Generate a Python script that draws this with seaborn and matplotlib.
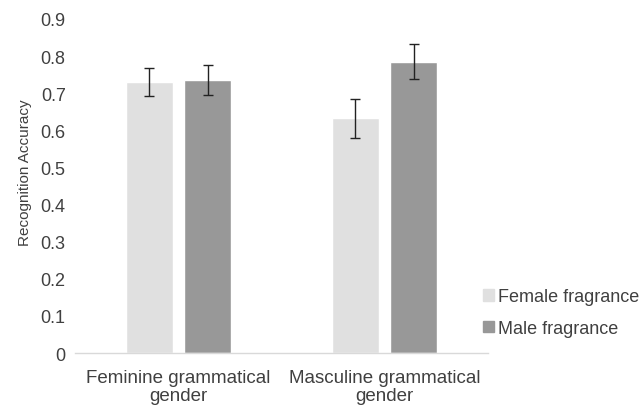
import matplotlib
matplotlib.use("Agg")
import matplotlib.pyplot as plt
import seaborn as sns
import pandas as pd
import numpy as np

# data
conditions = ["Feminine grammatical\ngender", "Masculine grammatical\ngender"]
fragrances = ["Female fragrance", "Male fragrance"]
female_acc = [0.730, 0.632]
male_acc = [0.735, 0.785]
female_err = [0.037, 0.052]
male_err = [0.040, 0.047]

df = pd.DataFrame({
    "condition": conditions * 2,
    "fragrance": [fragrances[0]] * 2 + [fragrances[1]] * 2,
    "accuracy": female_acc + male_acc,
    "err": female_err + male_err,
})

sns.set_style("white")
plt.rcParams["font.family"] = ["Liberation Sans", "DejaVu Sans"]
text_col = "#404040"

fig = plt.figure(figsize=(6.44, 4.06), dpi=100)
ax = fig.add_axes([0.117, 0.128, 0.640, 0.823])

sns.barplot(
    data=df, x="condition", y="accuracy", hue="fragrance",
    palette=["#e0e0e0", "#989898"], width=0.57, gap=0.2,
    errorbar=None, ax=ax, legend=False, saturation=1,
)

# error bars at the bar centres
for bars, errs in zip(ax.containers, [female_err, male_err]):
    xs = [b.get_x() + b.get_width() / 2 for b in bars]
    ys = [b.get_height() for b in bars]
    ax.errorbar(xs, ys, yerr=errs, fmt="none", ecolor="#222222",
                elinewidth=1, capsize=3.5, capthick=1)

ax.set_xlim(-0.5, 1.5)
ax.set_ylim(0, 0.9)
ax.set_yticks(np.arange(0, 0.91, 0.1))
ax.set_yticklabels(["0"] + [f"{v:.1f}" for v in np.arange(0.1, 0.91, 0.1)])
ax.set_xlabel("")
ax.set_ylabel("Recognition Accuracy", fontsize=11, color=text_col)
ax.yaxis.set_label_coords(-0.105, 0.543)
ax.tick_params(axis="both", length=0, labelsize=13, colors=text_col, pad=7)
ax.tick_params(axis="x", pad=11.5)
for lab in ax.get_xticklabels():
    lab.set_linespacing(1.08)
    lab.set_fontsize(13.5)

for s in ["top", "right", "left"]:
    ax.spines[s].set_visible(False)
ax.spines["bottom"].set_color("#d9d9d9")
ax.spines["bottom"].set_linewidth(1)

handles = [plt.Rectangle((0, 0), 1, 1, color=c) for c in ["#e0e0e0", "#989898"]]
fig.legend(handles, fragrances, loc="center left", bbox_to_anchor=(0.750, 0.228),
           frameon=False, fontsize=13, handlelength=0.6, handleheight=0.6,
           handletextpad=0.25, labelspacing=0.8, labelcolor=text_col,
           borderpad=0, borderaxespad=0)

fig.savefig("out.png", dpi=100)
